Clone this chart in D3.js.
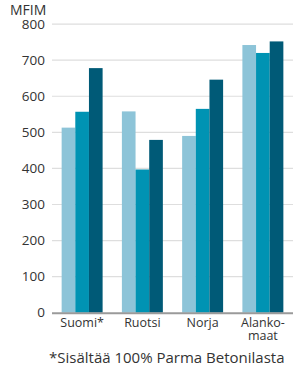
<!DOCTYPE html>
<html>
<head>
<meta charset="utf-8">
<script src="https://cdn.jsdelivr.net/npm/d3@7"></script>
<style>
  body { margin: 0; background: #fff; }
  svg { font-family: "Open Sans", "Noto Sans", sans-serif; }
</style>
</head>
<body>
<svg id="chart" width="299" height="370"></svg>
<script>
// data
var countries = ['Suomi*', 'Ruotsi', 'Norja', 'Alanko-\nmaat'];
var seriesA = [513, 558, 490, 742];
var seriesB = [557, 397, 565, 720];
var seriesC = [678, 479, 646, 752];
var yTicks = [0, 100, 200, 300, 400, 500, 600, 700, 800];
var unitLabel = 'MFIM';
var footnote = '*Sisältää 100% Parma Betonilasta';

var colors = ['#8dc4d8', '#0093b3', '#005a77'];
var series = [seriesA, seriesB, seriesC];

var svg = d3.select('#chart');
var x0 = 52, x1 = 293, yTop = 24.1, yBottom = 312.7;

var x = d3.scaleBand().domain(countries).range([x0, x1]).paddingInner(0.32).paddingOuter(0.16);
var xs = d3.scaleBand().domain([0, 1, 2]).range([0, x.bandwidth()]);
var y = d3.scaleLinear().domain([0, 800]).range([yBottom, yTop]);

// grid
svg.append('g').selectAll('line').data(yTicks.slice(1)).enter().append('line')
  .attr('x1', x0).attr('x2', x1)
  .attr('y1', function(d) { return y(d); }).attr('y2', function(d) { return y(d); })
  .attr('stroke', '#dedede').attr('stroke-width', 1.2);

// y labels
svg.append('g').selectAll('text').data(yTicks).enter().append('text')
  .attr('x', 45).attr('y', function(d) { return y(d) + 4.5; })
  .attr('text-anchor', 'end').attr('font-size', 13.5).attr('fill', '#333')
  .text(function(d) { return d; });

svg.append('text').attr('x', 10).attr('y', 15).attr('font-size', 14).attr('fill', '#333')
  .text(unitLabel);

// bars
var rows = countries.map(function(c, i) {
  return { c: c, vals: series.map(function(s) { return s[i]; }) };
});
var groups = svg.append('g').selectAll('g').data(rows).enter().append('g')
  .attr('transform', function(d) { return 'translate(' + x(d.c) + ',0)'; });
groups.selectAll('rect').data(function(d) { return d.vals; }).enter().append('rect')
  .attr('x', function(d, i) { return xs(i); })
  .attr('width', xs.bandwidth())
  .attr('y', function(d) { return y(d); })
  .attr('height', function(d) { return yBottom - y(d); })
  .attr('fill', function(d, i) { return colors[i]; });

// x axis line
svg.append('line').attr('x1', x0).attr('x2', x1).attr('y1', yBottom + 0.5).attr('y2', yBottom + 0.5)
  .attr('stroke', '#9a9a9a').attr('stroke-width', 2);

// category labels
var lab = svg.append('g').selectAll('text').data(countries).enter().append('text')
  .attr('text-anchor', 'middle').attr('font-size', 12.5).attr('fill', '#333')
  .attr('x', function(d) { return x(d) + x.bandwidth() / 2; })
  .attr('y', 327);
lab.each(function(d) {
  var parts = d.split('\n'), t = d3.select(this);
  parts.forEach(function(p, i) {
    t.append('tspan').attr('x', x(d) + x.bandwidth() / 2).attr('dy', i ? 13 : 0).text(p);
  });
});

svg.append('text').attr('x', 49).attr('y', 363).attr('font-size', 15).attr('fill', '#333').text(footnote);
</script>
</body>
</html>
